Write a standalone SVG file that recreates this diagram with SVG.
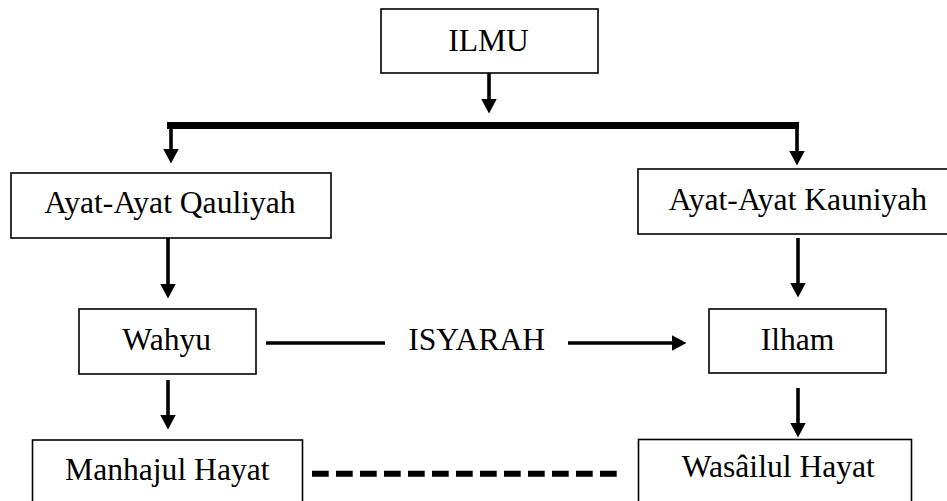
<svg xmlns="http://www.w3.org/2000/svg" width="947" height="501" viewBox="0 0 947 501">
<style>
.box{fill:#fff;stroke:#000;stroke-width:1.6}
.t{font-family:"Liberation Serif","Times New Roman",serif;font-size:31.6px;fill:#000;text-anchor:middle}
.c{stroke:#000;stroke-width:3.6;fill:none}
</style>
<defs>
<marker id="ah" markerUnits="userSpaceOnUse" markerWidth="15" markerHeight="16" viewBox="0 0 15 16" refX="0.5" refY="8" orient="auto">
<path d="M0,0 L15,8 L0,16 z" fill="#000"/>
</marker>
</defs>
<rect width="947" height="501" fill="#fff"/>
<g id="connectors">
<line class="c" x1="489" y1="73" x2="489" y2="99" marker-end="url(#ah)"/>
<line x1="167" y1="125.5" x2="799" y2="125.5" stroke="#000" stroke-width="7"/>
<line class="c" x1="171" y1="124" x2="171" y2="149" marker-end="url(#ah)"/>
<line class="c" x1="797" y1="124" x2="797" y2="151" marker-end="url(#ah)"/>
<line class="c" x1="168" y1="238" x2="168" y2="284" marker-end="url(#ah)"/>
<line class="c" x1="798" y1="238" x2="798" y2="283" marker-end="url(#ah)"/>
<line class="c" x1="168" y1="380" x2="168" y2="415" marker-end="url(#ah)"/>
<line class="c" x1="798" y1="388" x2="798" y2="423" marker-end="url(#ah)"/>
<line class="c" x1="266" y1="343" x2="385" y2="343" stroke-width="4"/>
<line class="c" x1="568" y1="343" x2="672" y2="343" stroke-width="4" marker-end="url(#ah)"/>
<line x1="312" y1="473.7" x2="617" y2="473.7" stroke="#000" stroke-width="6" stroke-dasharray="16.7 7.3"/>
</g>
<g id="ilmu">
<rect class="box" x="381" y="9" width="217" height="64"/>
<text class="t" x="488.5" y="51">ILMU</text>
</g>
<g id="qauliyah">
<rect class="box" x="11" y="173" width="320" height="65"/>
<text class="t" x="170" y="213">Ayat-Ayat Qauliyah</text>
</g>
<g id="kauniyah">
<rect class="box" x="638" y="169" width="320" height="65"/>
<text class="t" x="798" y="210">Ayat-Ayat Kauniyah</text>
</g>
<g id="wahyu">
<rect class="box" x="79" y="309" width="177" height="65"/>
<text class="t" x="166.7" y="350">Wahyu</text>
</g>
<g id="isyarah">
<text class="t" x="476.7" y="350">ISYARAH</text>
</g>
<g id="ilham">
<rect class="box" x="709" y="309" width="177" height="64"/>
<text class="t" x="797.5" y="350">Ilham</text>
</g>
<g id="manhajul">
<rect class="box" x="32.5" y="440" width="270" height="80"/>
<text class="t" x="167.3" y="480">Manhajul Hayat</text>
</g>
<g id="wasailul">
<rect class="box" x="638.5" y="439.5" width="273" height="80"/>
<text class="t" x="778.3" y="477">Wasâilul Hayat</text>
</g>
</svg>
